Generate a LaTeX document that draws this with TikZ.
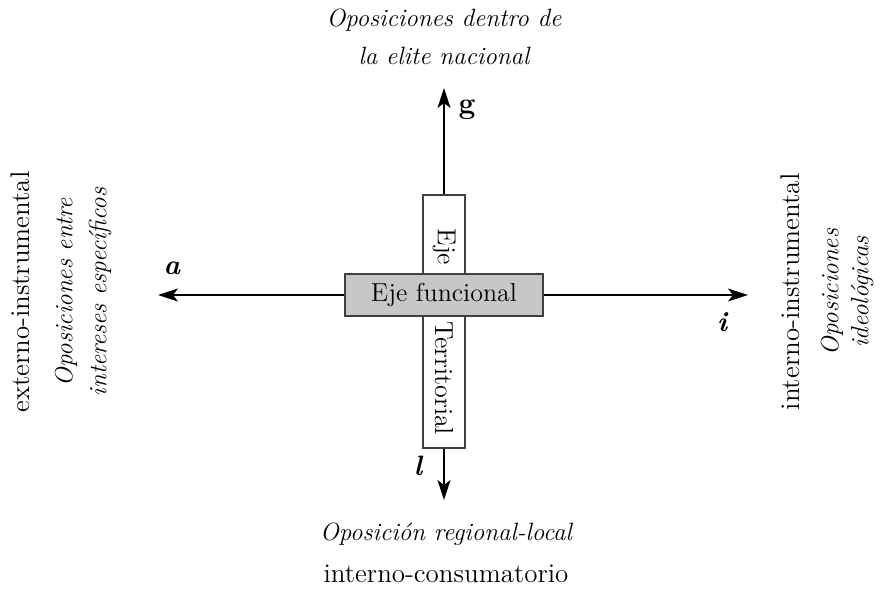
\documentclass[tikz,border=0pt]{standalone}
\usetikzlibrary{arrows.meta}
\begin{document}
\begin{tikzpicture}[x=0.5pt,y=-0.5pt,
  txt/.style={font=\fontsize{13.5}{16}\selectfont, inner sep=0pt},
  itxt/.style={font=\fontsize{12.5}{15}\selectfont\itshape, inner sep=0pt, align=center},
  letter/.style={font=\fontsize{14}{16}\selectfont\bfseries\itshape, inner sep=0pt},
  axis/.style={line width=0.6pt, -{Stealth[length=10pt,width=6.5pt,inset=2.5pt]}},
  boxline/.style={draw=black!75, line width=0.6pt}]
\useasboundingbox (0,0) rectangle (884,590);
% axis ends
\coordinate (top) at (444,88);
\coordinate (bot) at (444,500);
\coordinate (lft) at (158,295);
\coordinate (rgt) at (748,295);
% the two crossing bars
\node[boxline, fill=white, minimum width=21pt, minimum height=126.5pt, inner sep=0pt] (vbar) at (444,321.5) {};
\draw[axis] (vbar.north) -- (top);
\draw[axis] (vbar.south) -- (bot);
\node[boxline, fill=black!22, minimum width=99pt, minimum height=21pt, inner sep=0pt] (hbar) at (444,295) {};
\draw[axis] (hbar.west) -- (lft);
\draw[axis] (hbar.east) -- (rgt);
\node[txt, font=\fontsize{13}{16}\selectfont] (func) at (hbar.center) {Eje funcional};
\node[txt, font=\fontsize{13}{16}\selectfont, rotate=-90] (eje) at (444,247) {Eje};
\node[txt, font=\fontsize{13}{16}\selectfont, rotate=-90] (terr) at (444,378) {Territorial};
% axis letters
\node[letter, font=\fontsize{15}{17}\selectfont\bfseries] (g) at (467,110) {g};
\node[letter] (a) at (172,268) {a};
\node[letter] (i) at (722,322) {i};
\node[letter] (l) at (418,466) {l};
% outer labels
\node[itxt] (tlab) at (444,37) {Oposiciones dentro de\\[4pt]la elite nacional};
\node[itxt] (blab) at (446,534) {Oposición regional-local};
\node[txt] (bsub) at (446,574) {interno-consumatorio};
\node[txt, rotate=90] (lsub) at (20,292) {externo-instrumental};
\node[itxt, rotate=90] (llab) at (83,292) {Oposiciones entre\\[2pt]intereses específicos};
\node[txt, rotate=90] (rsub) at (790,292) {interno-instrumental};
\node[itxt, rotate=90] (rlab) at (847,292) {Oposiciones\\[0pt]ideológicas};
\end{tikzpicture}
\end{document}
